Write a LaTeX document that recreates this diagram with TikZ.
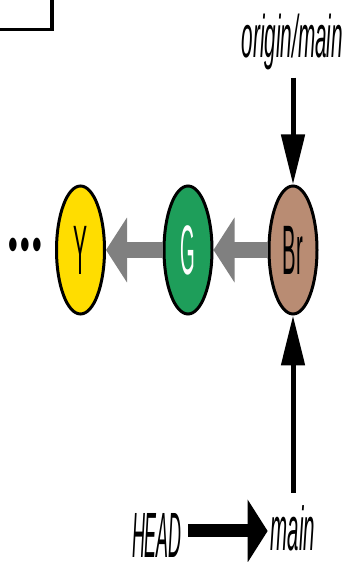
\documentclass[tikz,border=0pt]{standalone}
\usepackage{fontspec}
\setmainfont{Liberation Sans}
\usepackage{graphicx}
\usetikzlibrary{positioning,arrows.meta,shapes.geometric}
\definecolor{commitY}{HTML}{FFDD00}
\definecolor{commitG}{HTML}{1E9E5A}
\definecolor{commitBr}{HTML}{B98C73}
\newcommand{\squeeze}[2]{\scalebox{#1}[1]{#2}}

\begin{document}
\begin{tikzpicture}[x=1pt,y=1pt,
  commit/.style={ellipse,draw=black,line width=3pt,minimum width=48pt,minimum height=128pt,inner sep=0pt,font=\fontsize{70}{70}\selectfont},
  reflabel/.style={inner sep=0pt,font=\itshape\fontsize{#1}{#1}\selectfont},
  parent/.style={draw=gray,line width=16pt,-{Triangle[length=21pt,width=64pt]}},
  refptr/.style={draw=black,line width=5pt,-{Triangle[length=50pt,width=23pt]}},
  headptr/.style={draw=black,line width=13pt,-{Triangle[length=20pt,width=62pt]}}
]
  \useasboundingbox (0,0) rectangle (350,562);
  % corner of the frame above
  \draw[line width=3.5pt] (0,532.5) -| (52,562);
  % commits: name/x/fill/text colour/label/xscale
  \foreach \nm/\x/\col/\txt/\lbl/\sx in {%
     Y/80.5/commitY/black/Y/0.3,
     G/188/commitG/white/G/0.27,
     Br/293/commitBr/black/Br/0.29%
  }{
    \node[commit,fill=\col,text=\txt] (\nm) at (\x,312) {\squeeze{\sx}{\lbl}};
  }
  \node[font=\fontsize{50}{50}\selectfont,inner sep=0pt,left=13pt of Y] (more)
    {\squeeze{0.55}{•\kern4pt•\kern4pt•}};
  \draw[parent] (Br) -- (G);
  \draw[parent] (G) -- (Y);
  % branch pointers
  \node[reflabel=60,anchor=base] (origin) at (292.5,504) {\squeeze{0.345}{origin/main}};
  \node[reflabel=62,anchor=base] (main) at (293,12) {\squeeze{0.33}{main}};
  \node[reflabel=64,anchor=base east] (head) at (182,5) {\squeeze{0.28}{HEAD}};
  \coordinate (shaft) at (0,31);
  \draw[refptr,shorten <=7pt] (origin.south -| Br.north) -- (Br.north);
  \draw[refptr,shorten <=12pt] (main.north -| Br.south) -- (Br.south);
  \draw[headptr,shorten <=6pt,shorten >=3pt] (head.east |- shaft) -- (main.west |- shaft);
\end{tikzpicture}
\end{document}
